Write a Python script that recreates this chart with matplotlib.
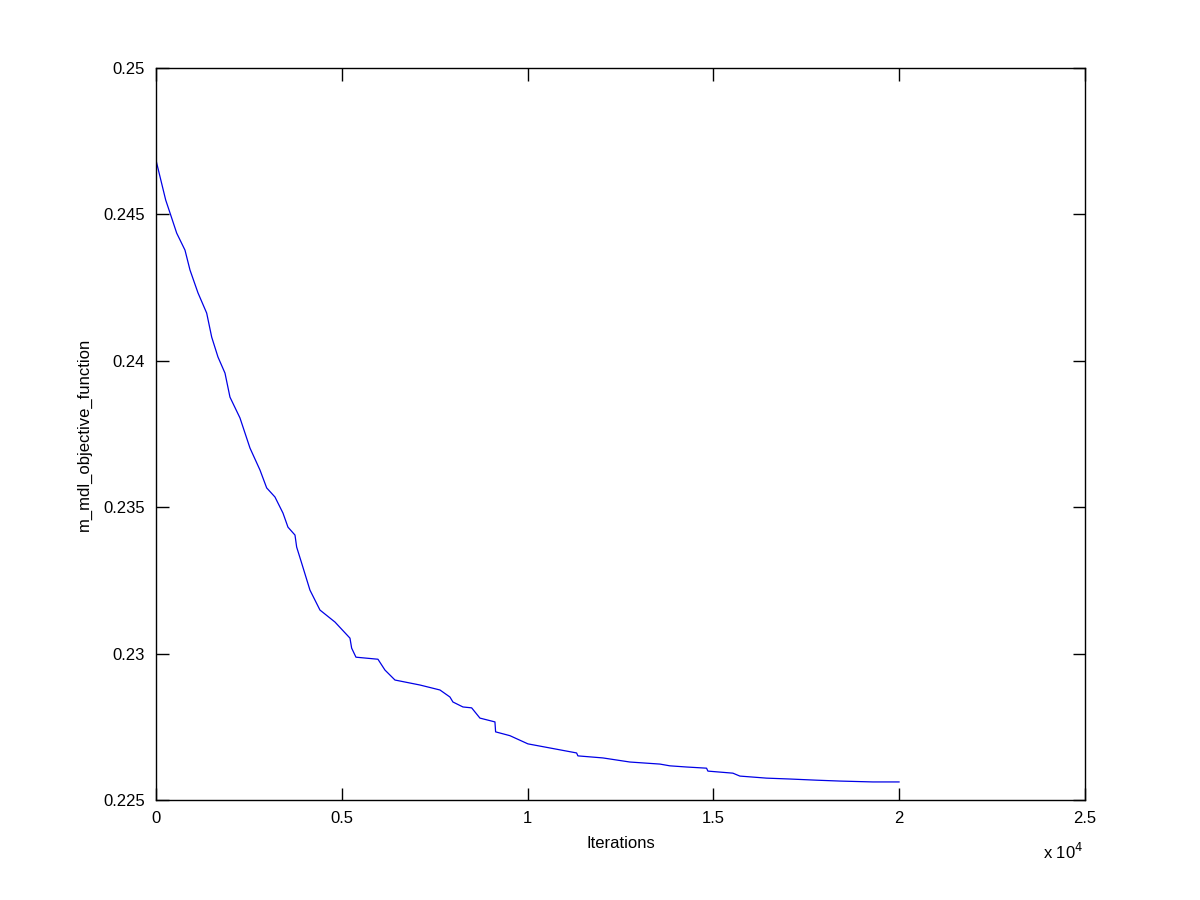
import matplotlib
matplotlib.use("Agg")
import matplotlib.pyplot as plt
from matplotlib.ticker import FuncFormatter

plt.rcParams["font.family"] = ["Liberation Sans", "DejaVu Sans"]

# values (iteration, objective)
iterations = [0, 19, 261, 377, 557, 780, 915, 1130, 1364, 1499, 1668, 1857, 1991,
              2260, 2530, 2799, 2979, 3202, 3418, 3552, 3741, 3786, 3921, 4144,
              4413, 4817, 5221, 5266, 5382, 5974, 6163, 6432, 7104, 7643, 7912,
              7992, 8262, 8496, 8719, 9123, 9141, 9526, 10011, 10603, 11321,
              11356, 12029, 12756, 13563, 13832, 14281, 14819, 14855, 15527,
              15716, 16434, 17061, 17780, 18407, 19295, 20000]
objective = [0.24686, 0.24675, 0.24549, 0.24505, 0.24436, 0.24378, 0.24310,
             0.24232, 0.24163, 0.24081, 0.24013, 0.23958, 0.23876, 0.23805,
             0.23702, 0.23627, 0.23566, 0.23535, 0.23480, 0.23432, 0.23405,
             0.23364, 0.23309, 0.23217, 0.23149, 0.23108, 0.23053, 0.23019,
             0.22988, 0.22981, 0.22944, 0.22910, 0.22893, 0.22876, 0.22852,
             0.22835, 0.22818, 0.22815, 0.22780, 0.22767, 0.22733, 0.22720,
             0.22692, 0.22678, 0.22661, 0.22651, 0.22644, 0.22630, 0.22623,
             0.22617, 0.22613, 0.22609, 0.22599, 0.22592, 0.22582, 0.22575,
             0.22572, 0.22568, 0.22565, 0.22562, 0.22562]

x_ticks = [0, 5000, 10000, 15000, 20000, 25000]
y_ticks = [0.225, 0.23, 0.235, 0.24, 0.245, 0.25]

fig = plt.figure(figsize=(12, 9), dpi=100)
ax = fig.add_axes([0.13, 0.111, 0.774, 0.8135])
ax.plot(iterations, objective, color=(0, 0, 0.9), linewidth=0.9)

ax.set_xlim(0, 25000)
ax.set_ylim(0.225, 0.25)
ax.set_xticks(x_ticks)
ax.set_yticks(y_ticks)
ax.xaxis.set_major_formatter(FuncFormatter(lambda v, p: f"{v / 1e4:g}"))
ax.yaxis.set_major_formatter(FuncFormatter(lambda v, p: f"{v:g}"))
ax.tick_params(direction="in", length=9, width=1, top=True, right=True,
               labelsize=12, pad=8)
for s in ax.spines.values():
    s.set_linewidth(1)

ax.set_xlabel("Iterations", fontsize=12, labelpad=7)
ax.set_ylabel("m_mdl_objective_function", fontsize=12, labelpad=8)
fig.text(1063 / 1200, 1 - 852 / 900, r"x 10$^4$", fontsize=12, ha="center", va="center")

fig.savefig("out.png", dpi=100, facecolor="white")
